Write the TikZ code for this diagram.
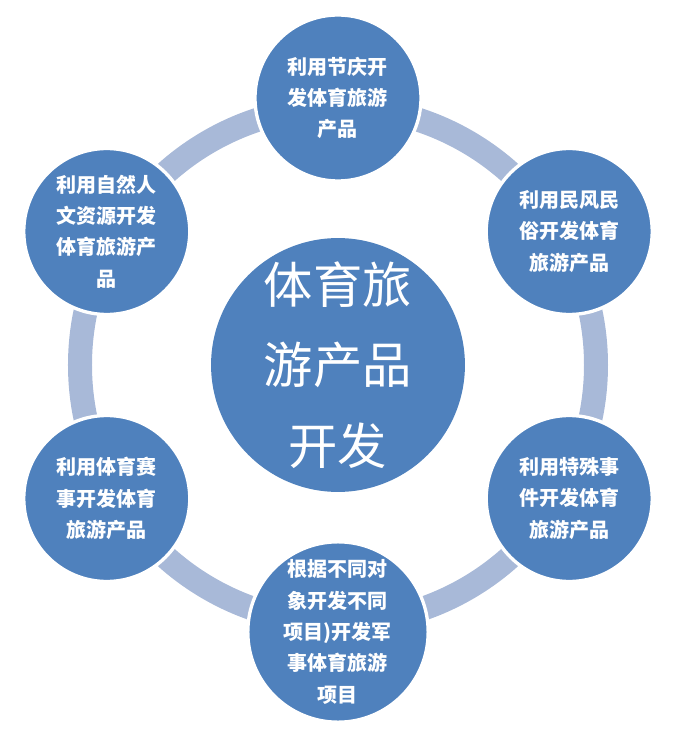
\documentclass[tikz,border=0pt]{standalone}
\usepackage{fontspec}
\setmainfont{Noto Sans CJK SC}
\usepackage{tikz}
\definecolor{petal}{RGB}{79,129,189}
\definecolor{ringblue}{RGB}{168,185,216}

\begin{document}
\begin{tikzpicture}[x=0.75pt,y=0.75pt,
every node/.style={text=white, align=center, inner sep=0pt},
bubble/.style={circle, fill=petal, draw=white, line width=2.5pt, minimum size=124.5pt,
	font=\fontsize{15}{23.5}\selectfont\bfseries},
hubnode/.style={circle, fill=petal, minimum size=181.5pt,
	font=\fontsize{37}{60.5}\selectfont},
ring/.style={draw=ringblue, line width=18pt}]
\def\dist{267}
\useasboundingbox (-338,-367) rectangle (341,365);
\coordinate (centre) at (0,0);

%ring behind everything
\draw[ring] (centre) circle (258);

\node[hubnode] (hub) at (centre) {体育旅\\游产品\\开发};

%six bubbles around the hub
\foreach \a/\n/\t in {
	90/fest/{利用节庆开\\发体育旅游\\产品},
	30/folk/{利用民风民\\俗开发体育\\旅游产品},
	-30/event/{利用特殊事\\件开发体育\\旅游产品},
	-90/army/{根据不同对\\象开发不同\\项目)开发军\\事体育旅游\\项目},
	-150/match/{利用体育赛\\事开发体育\\旅游产品},
	150/nature/{利用自然人\\文资源开发\\体育旅游产\\品}}{
	\node[bubble] (\n) at (\a:\dist) {\t};
}
\end{tikzpicture}
\end{document}
